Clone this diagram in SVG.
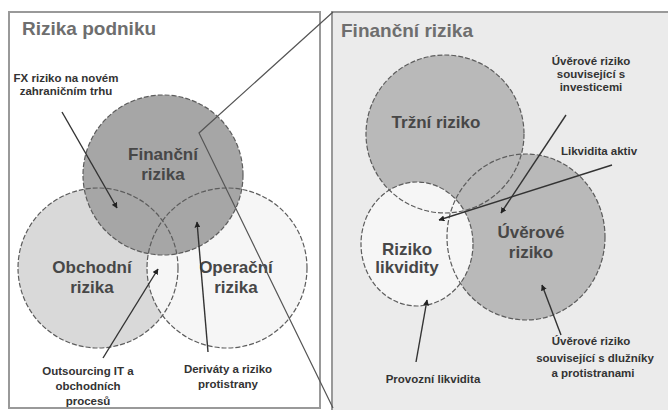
<svg xmlns="http://www.w3.org/2000/svg" width="668" height="410" viewBox="0 0 668 410">
<style>
.title{font-family:"Liberation Sans",Arial,sans-serif;font-weight:bold;font-size:19px;fill:#6e6e6e}
.big{font-family:"Liberation Sans",Arial,sans-serif;font-weight:bold;font-size:17px;fill:#474747;text-anchor:middle}
.sm{font-family:"Liberation Sans",Arial,sans-serif;font-weight:bold;font-size:11.5px;fill:#333;text-anchor:middle}
.ol{fill:none;stroke:#5c5c5c;stroke-width:1.2;stroke-dasharray:5 2}
.arr{stroke:#333;stroke-width:1.4;fill:none;marker-end:url(#ah)}
.zoom{stroke:#555;stroke-width:1.2;fill:none}
</style>
<defs>
<marker id="ah" viewBox="0 0 10 10" refX="9" refY="5" markerWidth="6" markerHeight="6" orient="auto" markerUnits="userSpaceOnUse">
<path d="M0,0 L10,5 L0,10 z" fill="#222"/>
</marker>
</defs>
<rect width="668" height="410" fill="#fff"/>
<g id="panel-left">
<rect x="9" y="12" width="311" height="396" fill="#fff" stroke="#999" stroke-width="2"/>
<text class="title" x="22" y="35">Rizika podniku</text>
</g>
<g id="panel-right">
<rect x="332" y="12" width="340" height="400" fill="#ebebeb" stroke="#999" stroke-width="2"/>
<text class="title" x="341" y="37" fill="#7a7a7a">Finanční rizika</text>
</g>
<g id="circle-obchodni">
<circle cx="98" cy="268" r="80" fill="#d9d9d9"/>
</g>
<g id="circle-operacni">
<circle cx="227" cy="268" r="80" fill="#f6f6f6"/>
</g>
<g id="circle-financni">
<circle cx="163" cy="175" r="80" fill="#a6a6a6"/>
</g>
<g id="outlines-left">
<circle class="ol" cx="98" cy="268" r="80"/>
<circle class="ol" cx="227" cy="268" r="80"/>
<circle class="ol" cx="163" cy="175" r="80"/>
</g>
<g id="labels-left">
<text class="big" x="163" y="160">Finanční</text>
<text class="big" x="163" y="180">rizika</text>
<text class="big" x="92" y="273">Obchodní</text>
<text class="big" x="92" y="293">rizika</text>
<text class="big" x="236" y="273">Operační</text>
<text class="big" x="236" y="293">rizika</text>
</g>
<g id="circle-trzni">
<circle cx="445" cy="134" r="79" fill="#b9b9b9"/>
</g>
<g id="circle-uverove">
<ellipse cx="526" cy="237" rx="79" ry="83" fill="#b9b9b9"/>
</g>
<g id="circle-likvidita">
<ellipse cx="417" cy="244" rx="56" ry="62" fill="#f6f6f6"/>
</g>
<g id="outlines-right">
<circle class="ol" cx="445" cy="134" r="79"/>
<ellipse class="ol" cx="526" cy="237" rx="79" ry="83"/>
<ellipse class="ol" cx="417" cy="244" rx="56" ry="62"/>
</g>
<g id="labels-right">
<text class="big" x="436" y="128">Tržní riziko</text>
<text class="big" x="407" y="255">Riziko</text>
<text class="big" x="407" y="273">likvidity</text>
<text class="big" x="531" y="238">Úvěrové</text>
<text class="big" x="531" y="258">riziko</text>
</g>
<g id="connectors">
<polyline class="zoom" points="333,12 199,133 333,408"/>
<line class="arr" x1="62" y1="112" x2="117" y2="208"/>
<line class="arr" x1="103" y1="358" x2="158" y2="269"/>
<line class="arr" x1="208" y1="352" x2="197" y2="222"/>
<line class="arr" x1="566" y1="115" x2="501" y2="213"/>
<line class="arr" x1="612" y1="165" x2="439" y2="220"/>
<line class="arr" x1="416" y1="362" x2="427" y2="300"/>
<line class="arr" x1="561" y1="335" x2="542" y2="285"/>
</g>
<g id="annotations">
<text class="sm" x="66" y="82">FX riziko na novém</text>
<text class="sm" x="66" y="95">zahraničním trhu</text>
<text class="sm" x="88" y="375">Outsourcing IT a</text>
<text class="sm" x="88" y="390">obchodních</text>
<text class="sm" x="88" y="405">procesů</text>
<text class="sm" x="228" y="373">Deriváty a riziko</text>
<text class="sm" x="228" y="388">protistrany</text>
<text class="sm" x="591" y="65">Úvěrové riziko</text>
<text class="sm" x="591" y="78">související s</text>
<text class="sm" x="591" y="91">investicemi</text>
<text class="sm" x="599" y="155">Likvidita aktiv</text>
<text class="sm" x="433" y="383">Provozní  likvidita</text>
<text class="sm" x="591" y="345">Úvěrové riziko</text>
<text class="sm" x="595" y="362">související s dlužníky</text>
<text class="sm" x="593" y="377">a protistranami</text>
</g>
</svg>
